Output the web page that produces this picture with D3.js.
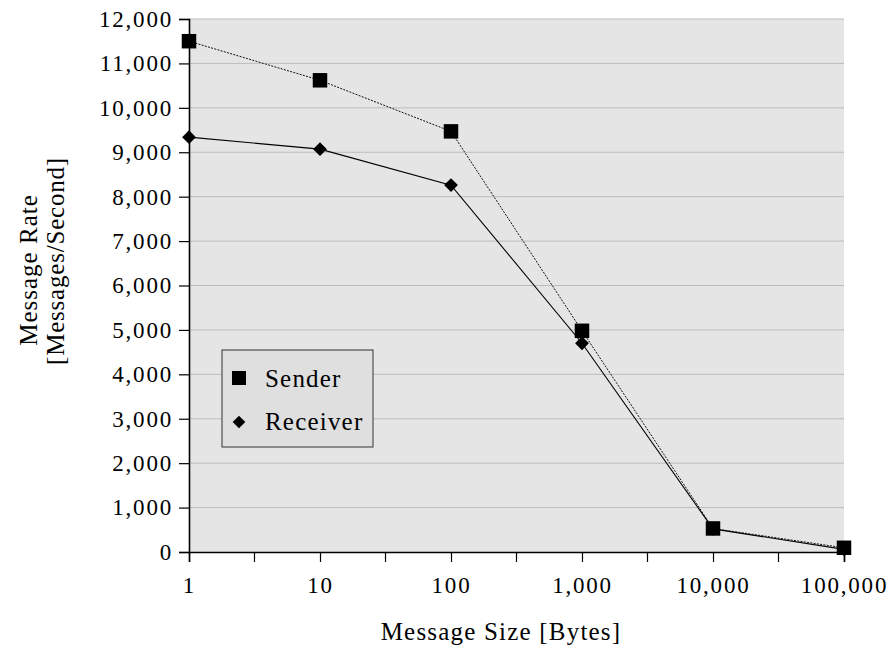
<!DOCTYPE html>
<html>
<head>
<meta charset="utf-8">
<script src="https://cdn.jsdelivr.net/npm/d3@7"></script>
<style>
  html, body { margin: 0; padding: 0; background: #ffffff; }
  svg { display: block; }
  text { font-family: "Liberation Serif", "Times New Roman", serif; fill: #000; }
</style>
</head>
<body>
<svg id="chart" width="895" height="653"></svg>
<script>
// Message sizes in bytes (log axis)
const messageSizes = [1, 10, 100, 1000, 10000, 100000];
// Measured message rates, messages per second
const senderRates = [11500, 10620, 9470, 4980, 530, 95];
const receiverRates = [9340, 9070, 8260, 4700, 520, 60];
// Axis ticks
const xTickValues = [1, 10, 100, 1000, 10000, 100000];
const yTickValues = [0, 1000, 2000, 3000, 4000, 5000, 6000, 7000, 8000, 9000, 10000, 11000, 12000];
const seriesNames = ["Sender", "Receiver"];

const svg = d3.select("#chart");
const plot = { left: 189, right: 844, top: 19, bottom: 552 };

const x = d3.scaleLog().domain([1, 100000]).range([plot.left, plot.right]);
const y = d3.scaleLinear().domain([0, 12000]).range([plot.bottom, plot.top]);
const fmt = d3.format(",");

// plot background
svg.append("rect")
  .attr("x", plot.left).attr("y", plot.top)
  .attr("width", plot.right - plot.left).attr("height", plot.bottom - plot.top)
  .attr("fill", "#e5e5e5");

// horizontal gridlines
svg.append("g").selectAll("line")
  .data(yTickValues.filter(v => v > 0))
  .join("line")
  .attr("x1", plot.left).attr("x2", plot.right)
  .attr("y1", d => y(d)).attr("y2", d => y(d))
  .attr("stroke", "#bcbcbc").attr("stroke-width", 1);

// y axis
const yAxis = svg.append("g")
  .attr("transform", `translate(${plot.left},0)`)
  .call(d3.axisLeft(y).tickValues(yTickValues).tickFormat(fmt).tickSize(10).tickPadding(6));
yAxis.select(".domain").attr("stroke", "#000").attr("stroke-width", 1.6);
yAxis.selectAll(".tick line").attr("stroke", "#000").attr("stroke-width", 1.2);
yAxis.selectAll(".tick text")
  .attr("font-family", "Liberation Serif, serif")
  .attr("font-size", 23).attr("letter-spacing", "1.8px").attr("fill", "#000");

// x axis with decade labels and half-decade minor ticks
const minorTicks = xTickValues.slice(0, -1).map(v => v * Math.sqrt(10));
const xAxis = svg.append("g")
  .attr("transform", `translate(0,${plot.bottom})`)
  .call(d3.axisBottom(x).tickValues(xTickValues).tickFormat(fmt).tickSize(10).tickPadding(15));
xAxis.select(".domain").attr("stroke", "#000").attr("stroke-width", 1.6);
xAxis.selectAll(".tick line").attr("stroke", "#000").attr("stroke-width", 1.2);
xAxis.selectAll(".tick text")
  .attr("font-family", "Liberation Serif, serif")
  .attr("font-size", 23).attr("letter-spacing", "1.8px").attr("fill", "#000");
xAxis.append("g").selectAll("line")
  .data(minorTicks)
  .join("line")
  .attr("x1", d => x(d)).attr("x2", d => x(d))
  .attr("y1", 0).attr("y2", 10)
  .attr("stroke", "#000").attr("stroke-width", 1.2);

// series lines
const lineGen = vals => d3.line()
  .x((d, i) => x(messageSizes[i]))
  .y(d => y(d))(vals);

svg.append("path")
  .attr("d", lineGen(senderRates))
  .attr("fill", "none").attr("stroke", "#111").attr("stroke-width", 1)
  .attr("stroke-dasharray", "2,1.3");

svg.append("path")
  .attr("d", lineGen(receiverRates))
  .attr("fill", "none").attr("stroke", "#000").attr("stroke-width", 1.1);

// markers
const squareSym = d3.symbol().type(d3.symbolSquare).size(210);
const diamondSym = d3.symbol().type(d3.symbolSquare).size(95);

svg.append("g").selectAll("path")
  .data(receiverRates)
  .join("path")
  .attr("d", diamondSym)
  .attr("transform", (d, i) => `translate(${x(messageSizes[i])},${y(d)}) rotate(45)`)
  .attr("fill", "#000");

svg.append("g").selectAll("path")
  .data(senderRates)
  .join("path")
  .attr("d", squareSym)
  .attr("transform", (d, i) => `translate(${x(messageSizes[i])},${y(d)})`)
  .attr("fill", "#000");

// legend
const legend = svg.append("g").attr("transform", "translate(222,350)");
legend.append("rect")
  .attr("x", 0).attr("y", 0).attr("width", 151).attr("height", 97)
  .attr("fill", "#dfdfdf").attr("stroke", "#333").attr("stroke-width", 1);
legend.append("path")
  .attr("d", d3.symbol().type(d3.symbolSquare).size(196))
  .attr("transform", "translate(17,28)").attr("fill", "#000");
legend.append("path")
  .attr("d", d3.symbol().type(d3.symbolSquare).size(80))
  .attr("transform", "translate(17,72) rotate(45)").attr("fill", "#000");
legend.selectAll("text.lbl")
  .data(seriesNames)
  .join("text")
  .attr("class", "lbl")
  .attr("x", 43).attr("y", (d, i) => 37 + i * 43)
  .attr("font-size", 25).attr("letter-spacing", "1.2px")
  .text(d => d);

// axis titles
svg.append("text")
  .attr("x", 501).attr("y", 640)
  .attr("text-anchor", "middle")
  .attr("font-size", 25).attr("letter-spacing", "1.2px")
  .text("Message Size [Bytes]");

svg.append("text")
  .attr("transform", "translate(37,270) rotate(-90)")
  .attr("text-anchor", "middle")
  .attr("font-size", 25).attr("letter-spacing", "1px")
  .text("Message Rate");
svg.append("text")
  .attr("transform", "translate(64,261) rotate(-90)")
  .attr("text-anchor", "middle")
  .attr("font-size", 25).attr("letter-spacing", "0.8px")
  .text("[Messages/Second]");
</script>
</body>
</html>
